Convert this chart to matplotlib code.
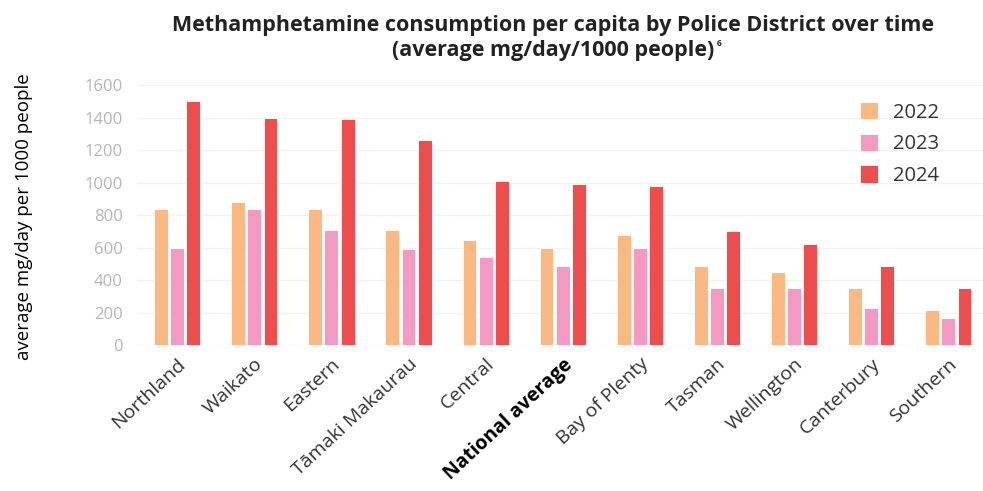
import matplotlib.pyplot as plt
import numpy as np

# meth consumption per police district, mg/day/1000 people
districts = ["Northland", "Waikato", "Eastern", "Tāmaki Makaurau", "Central",
             "National average", "Bay of Plenty", "Tasman", "Wellington",
             "Canterbury", "Southern"]
years = ["2022", "2023", "2024"]
vals_2022 = [840, 880, 840, 710, 650, 600, 680, 490, 450, 350, 215]
vals_2023 = [600, 840, 710, 590, 540, 490, 600, 350, 350, 230, 170]
vals_2024 = [1500, 1400, 1390, 1260, 1010, 990, 980, 700, 620, 490, 350]
colors = ["#FAB982", "#F39AC3", "#EE4D4D"]

plt.rcParams['font.family'] = ['Open Sans', 'DejaVu Sans']

fig = plt.figure(figsize=(9.83, 4.91), dpi=100)
ax = fig.add_axes([0.139, 0.297, 0.861, 0.546])

x = np.arange(len(districts))
pitch = 0.21
width = 0.18
for i, (vals, yr) in enumerate(zip([vals_2022, vals_2023, vals_2024], years)):
    ax.bar(x + (i - 1) * pitch, vals, width=width, color=colors[i],
           edgecolor="white", linewidth=0.6, label=yr, zorder=3)

ax.set_xlim(-0.526, 10.45)
ax.set_ylim(0, 1650)
ax.set_yticks(range(0, 1601, 200))
ax.grid(axis="y", color="#f2f2f2", linewidth=1, zorder=0)
for s in ax.spines.values():
    s.set_visible(False)
ax.tick_params(axis="y", length=0, labelsize=12, labelcolor="#b5b5b5", pad=10)
ax.tick_params(axis="x", length=0, pad=7)

ax.set_xticks(x)
ax.set_xticklabels(districts, rotation=43, ha="right", rotation_mode="anchor",
                   fontsize=14, color="#333333")
ax.get_xticklabels()[5].set_fontweight("bold")
ax.get_xticklabels()[5].set_color("black")

ax.set_ylabel("average mg/day per 1000 people", fontsize=13.5, color="black")
ax.yaxis.set_label_coords(-0.122, 0.48)

leg = ax.legend(loc="upper right", bbox_to_anchor=(0.97, 0.975), frameon=False,
                fontsize=14.5, handlelength=0.9, handleheight=0.95,
                labelspacing=0.55, handletextpad=0.75)
for t in leg.get_texts():
    t.set_color("#333333")

fig.text(0.563, 0.948, "Methamphetamine consumption per capita by Police District over time",
         ha="center", va="center", fontsize=15.5, fontweight="bold", color="#222222")
sub = fig.text(0.563, 0.897, "(average mg/day/1000 people)",
               ha="center", va="center", fontsize=15.5, fontweight="bold", color="#222222")

# small footnote marker after the second title line
fig.canvas.draw()
bb = sub.get_window_extent().transformed(fig.transFigure.inverted())
fig.text(bb.x1 + 0.002, bb.y1 + 0.002, "6", ha="left", va="top", fontsize=6,
         fontweight="bold", color="#222222")

fig.savefig("out.png", dpi=100)
